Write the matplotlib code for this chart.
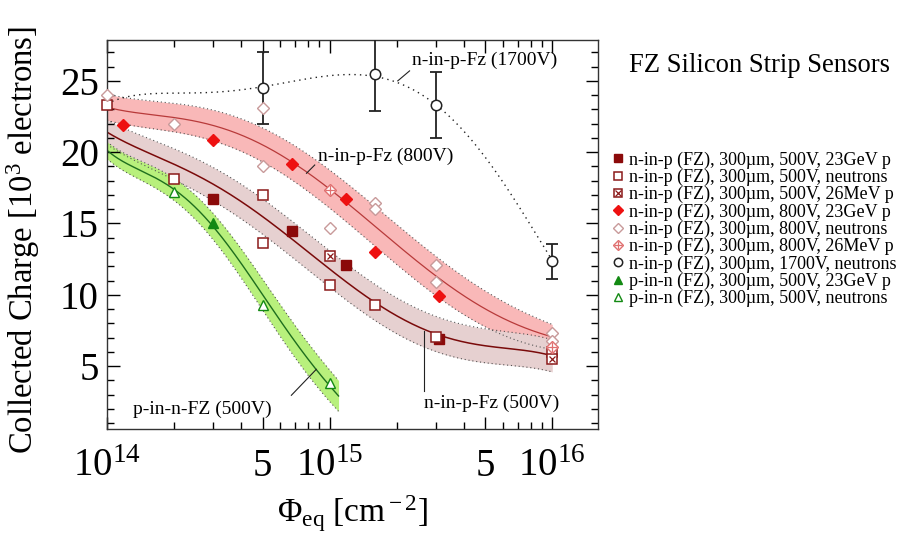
import matplotlib.pyplot as plt
import numpy as np
from matplotlib.ticker import FixedLocator, MultipleLocator, NullFormatter

plt.rcParams['font.family'] = ['Liberation Serif', 'DejaVu Serif']
plt.rcParams['mathtext.fontset'] = 'custom'
plt.rcParams['mathtext.rm'] = 'Liberation Serif'
plt.rcParams['mathtext.it'] = 'Liberation Serif:italic'

# measured points (fluence, charge in 1e3 electrons)
sq_23gev_x = [3e14, 6.8e14, 1.18e15, 3.1e15]
sq_23gev_y = [16.7, 14.44, 12.1, 6.9]
sq_neut_x = [1e14, 2e14, 5e14, 5e14, 1e15, 1.6e15, 3e15, 1e16]
sq_neut_y = [23.3, 18.1, 17.0, 13.6, 10.7, 9.25, 7.03, 5.98]
sq_26mev_x = [1e15, 1e16]
sq_26mev_y = [12.7, 5.52]
di_23gev_x = [1.18e14, 3e14, 6.8e14, 1.18e15, 1.6e15, 3.1e15]
di_23gev_y = [21.9, 20.85, 19.2, 16.7, 12.97, 9.94]
di_neut_x = [1e14, 2e14, 5e14, 5e14, 1e15, 1.6e15, 1.6e15, 3e15, 3e15, 1e16, 1e16]
di_neut_y = [24.0, 22.0, 23.07, 19.0, 14.68, 16.47, 16.0, 12.1, 10.9, 7.29, 6.75]
di_26mev_x = [1e15, 1e16]
di_26mev_y = [17.36, 6.35]
ci_x = [5e14, 1.6e15, 3e15, 1e16]
ci_y = [24.5, 25.47, 23.3, 12.34]
ci_err = [2.5, 2.6, 2.3, 1.2]
tr_23gev_x = [3e14]
tr_23gev_y = [15.0]
tr_neut_x = [2e14, 5e14, 1e15]
tr_neut_y = [17.2, 9.3, 3.8]

# fit curves (log10 fluence, charge, band half width)
fit_lx = [14.0, 14.2, 14.4, 14.6, 14.8, 15.0, 15.2, 15.4, 15.6, 15.8, 16.0]
fit800_y = [23.1, 22.8, 22.1, 21.0, 19.7, 17.6, 14.9, 12.0, 10.0, 8.3, 7.0]
fit800_w = [0.9, 1.0, 1.1, 1.1, 1.2, 1.3, 1.4, 1.5, 1.3, 1.1, 0.9]
fit500_y = [21.4, 19.9, 18.3, 16.6, 14.4, 11.8, 9.25, 7.9, 6.8, 6.1, 5.75]
fit500_w = [0.9, 1.0, 1.1, 1.2, 1.3, 1.3, 1.3, 1.2, 1.2, 1.15, 1.15]
pin_lx = [14.0, 14.1, 14.2, 14.3, 14.4, 14.5, 14.6, 14.7, 14.8, 14.9, 15.0, 15.04]
pin_y = [20.1, 19.2, 18.3, 17.3, 16.1, 14.5, 12.2, 9.9, 7.7, 5.6, 3.6, 2.9]
pin_w = [0.6, 0.65, 0.7, 0.75, 0.85, 0.95, 1.05, 1.1, 1.1, 1.1, 1.1, 1.1]
fit1700_lx = [14.0, 14.37, 14.7, 15.05, 15.2, 15.3, 15.48, 15.65, 15.85, 16.0]
fit1700_y = [23.4, 24.2, 24.5, 25.4, 25.45, 24.95, 23.3, 20.3, 16.5, 12.3]


def smooth(lx, vals, deg, n=300):
    c = np.polyfit(lx, vals, deg)
    xx = np.linspace(min(lx), max(lx), n)
    return xx, np.polyval(c, xx)


fig = plt.figure(figsize=(9.07, 5.34), dpi=100)
ax = fig.add_axes([0.118, 0.197, 0.541, 0.729])


def band(lx, yc, w, fill, line, lw):
    xx, cc = smooth(lx, yc, 5)
    _, ww = smooth(lx, w, 3)
    x = 10 ** xx
    ax.fill_between(x, cc - ww, cc + ww, color=fill, lw=0, zorder=1)
    ax.plot(x, cc - ww, ls=(0, (1, 2.5)), color='#555555', lw=0.8, zorder=2)
    ax.plot(x, cc + ww, ls=(0, (1, 2.5)), color='#555555', lw=0.8, zorder=2)
    ax.plot(x, cc, color=line, lw=lw, zorder=2)


band(fit_lx, fit800_y, fit800_w, '#f9b8b8', '#b83a3a', 0.9)
band(fit_lx, fit500_y, fit500_w, '#e6d0d0', '#7a0a0a', 1.1)
band(pin_lx, pin_y, pin_w, '#b8f07c', '#1e6e1e', 1.0)

xx, yy = smooth(fit1700_lx, fit1700_y, 5)
ax.plot(10 ** xx, yy, ls=(0, (1, 3)), color='#222222', lw=1.0, zorder=2)

kw = dict(ls='none', clip_on=False, zorder=5)
h1, = ax.plot(sq_23gev_x, sq_23gev_y, marker='s', ms=6.5, mfc='#8b0a0a', mec='#8b0a0a', **kw)
h2, = ax.plot(sq_neut_x, sq_neut_y, marker='s', ms=7, mfc='white', mec='#8b1a1a', mew=1.1, **kw)
h3a, = ax.plot(sq_26mev_x, sq_26mev_y, marker='s', ms=7, mfc='white', mec='#8b1a1a', mew=1.1, **kw)
h3b, = ax.plot(sq_26mev_x, sq_26mev_y, marker='x', ms=5, mec='#8b1a1a', mew=0.9, **kw)
h4, = ax.plot(di_23gev_x, di_23gev_y, marker='D', ms=6.5, mfc='#ee1111', mec='#ee1111', **kw)
h5, = ax.plot(di_neut_x, di_neut_y, marker='D', ms=6.5, mfc='white', mec='#c89a9a', mew=1.0, **kw)
h6a, = ax.plot(di_26mev_x, di_26mev_y, marker='D', ms=6.5, mfc='white', mec='#e07070', mew=1.0, **kw)
h6b, = ax.plot(di_26mev_x, di_26mev_y, marker='+', ms=7, mec='#e07070', mew=0.9, **kw)
ax.errorbar(ci_x, ci_y, yerr=ci_err, fmt='none', ecolor='#222222', elinewidth=1.3, capsize=4, capthick=1.3, zorder=4)
h7, = ax.plot(ci_x, ci_y, marker='o', ms=7.5, mfc='white', mec='#222222', mew=1.1, **kw)
h8, = ax.plot(tr_23gev_x, tr_23gev_y, marker='^', ms=7, mfc='#138a13', mec='#138a13', **kw)
h9, = ax.plot(tr_neut_x, tr_neut_y, marker='^', ms=7, mfc='white', mec='#138a13', mew=1.0, **kw)

ax.set_xscale('log')
ax.set_xlim(1e14, 1.6e16)
ax.set_ylim(0.6, 27.9)

ax.xaxis.set_major_locator(FixedLocator([1e14, 5e14, 1e15, 5e15, 1e16]))
ax.set_xticklabels(['$10^{14}$', '5', '$10^{15}$', '5', '$10^{16}$'])
minors = [m * 10 ** e for e in (14, 15) for m in (2, 3, 4, 6, 7, 8, 9)]
ax.xaxis.set_minor_locator(FixedLocator(minors))
ax.xaxis.set_minor_formatter(NullFormatter())
ax.yaxis.set_major_locator(MultipleLocator(5))
ax.yaxis.set_minor_locator(MultipleLocator(1))
ax.tick_params(which='both', direction='in', top=True, right=True, width=1.0)
ax.tick_params(which='major', length=9, labelsize=28, pad=6)
ax.tick_params(axis='x', which='major', pad=14)
ax.tick_params(which='minor', length=5)
for s in ax.spines.values():
    s.set_linewidth(1.0)
    s.set_color('#333333')

ax.set_ylabel('Collected Charge [10$^3$ electrons]', fontsize=23.5)
ax.yaxis.set_label_coords(-0.132, 0.485)
ax.set_xlabel('Φ$_{\\rm eq}$ [cm$^{\\rm -2}$]', fontsize=24, labelpad=6)

# curve labels with pointer lines
tk = dict(fontsize=14, va='center', zorder=6)
ax.text(10 ** 15.372, 26.45, 'n-in-p-Fz (1700V)', ha='left', **tk)
ax.plot([10 ** 15.306, 10 ** 15.359], [25.0, 25.7], color='#222222', lw=0.8)
ax.text(10 ** 14.946, 19.73, 'n-in-p-Fz (800V)', ha='left', **tk)
ax.plot([10 ** 14.896, 10 ** 14.933], [18.52, 19.1], color='#222222', lw=0.8)
ax.text(10 ** 15.426, 2.39, 'n-in-p-Fz (500V)', ha='left', **tk)
ax.plot([10 ** 15.426, 10 ** 15.426], [7.45, 3.25], color='#222222', lw=0.8)
ax.text(10 ** 14.74, 1.97, 'p-in-n-FZ (500V)', ha='right', **tk)
ax.plot([10 ** 14.828, 10 ** 14.94], [2.95, 4.77], color='#222222', lw=0.8)

labels = [
    'n-in-p (FZ), 300µm, 500V, 23GeV p',
    'n-in-p (FZ), 300µm, 500V, neutrons',
    'n-in-p (FZ), 300µm, 500V, 26MeV p',
    'n-in-p (FZ), 300µm, 800V, 23GeV p',
    'n-in-p (FZ), 300µm, 800V, neutrons',
    'n-in-p (FZ), 300µm, 800V, 26MeV p',
    'n-in-p (FZ), 300µm, 1700V, neutrons',
    'p-in-n (FZ), 300µm, 500V, 23GeV p',
    'p-in-n (FZ), 300µm, 500V, neutrons',
]
handles = [h1, h2, (h3a, h3b), h4, h5, (h6a, h6b), h7, h8, h9]
leg = fig.legend(handles, labels, loc='upper left', bbox_to_anchor=(0.664, 0.73),
                 frameon=False, fontsize=13, labelspacing=0.0, handlelength=0.9,
                 handletextpad=0.2, borderaxespad=0, markerscale=0.8)
fig.text(0.837, 0.878, 'FZ Silicon Strip Sensors', fontsize=19.2, ha='center', va='center')

fig.savefig('out.png', dpi=100)
